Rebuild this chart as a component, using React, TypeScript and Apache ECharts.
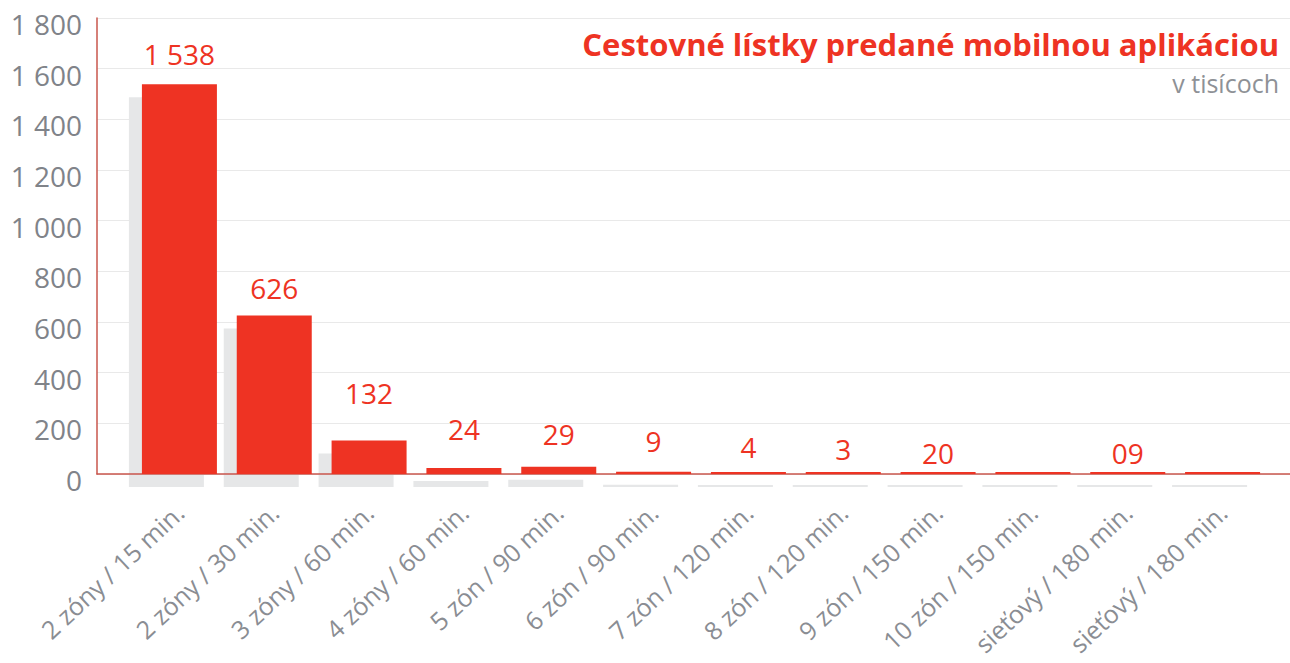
import React, { useEffect, useRef } from "react";
import * as echarts from "echarts";

const categories = [
  "2 zóny / 15 min.",
  "2 zóny / 30 min.",
  "3 zóny / 60 min.",
  "4 zóny / 60 min.",
  "5 zón / 90 min.",
  "6 zón / 90 min.",
  "7 zón / 120 min.",
  "8 zón / 120 min.",
  "9 zón / 150 min.",
  "10 zón / 150 min.",
  "sieťový / 180 min.",
  "sieťový / 180 min.",
];
const ticketValues = [1538, 626, 132, 24, 29, 9, 4, 3, 2, 1, 0.9, 1];
const valueLabels = ["1 538", "626", "132", "24", "29", "9", "4", "3", "20", "", "09", ""];
const yMin = 0;
const yMax = 1800;
const yStep = 200;

const titleText = "Cestovné lístky predané mobilnou aplikáciou";
const subtitleText = "v tisícoch";

// label lift above each bar (style only)
const labelLift = [16, 13, 34, 25, 19, 17, 11, 9, 5, 5, 5, 5];

const RED = "#ee3323";
const GREY_TXT = "#808389";
const FONT = "'Open Sans', 'Noto Sans', sans-serif";

function fmt(v: number) {
  return String(v).replace(/\B(?=(\d{3})+(?!\d))/g, " ");
}

export default function App() {
  const ref = useRef<HTMLDivElement>(null);
  useEffect(() => {
    document.body.style.margin = "0";
    const chart = echarts.init(ref.current!, undefined, { renderer: "svg" });
    const gridTop = 18;
    const gridBottom = 189;
    const shift = 13;
    chart.setOption({
      animation: false,
      textStyle: { fontFamily: FONT },
      grid: [
        { left: 97, right: 0, top: gridTop, bottom: gridBottom },
        { left: 132, width: 1138, top: gridTop, bottom: gridBottom },
        { left: 132 - shift, width: 1138, top: gridTop + shift, bottom: gridBottom - shift },
      ],
      xAxis: [
        {
          gridIndex: 0,
          type: "value",
          min: 0,
          max: 1,
          z: 5,
          axisLine: { show: true, lineStyle: { color: "#c9564c", width: 1.5 } },
          axisTick: { show: false },
          axisLabel: { show: false },
          splitLine: { show: false },
        },
        {
          gridIndex: 1,
          type: "category",
          data: categories,
          axisLine: { show: false },
          axisTick: { show: false },
          axisLabel: {
            rotate: 43,
            interval: 0,
            margin: 34,
            fontSize: 25,
            color: "#8a8d93",
            fontFamily: FONT,
          },
        },
        { gridIndex: 2, type: "category", data: categories, show: false },
      ],
      yAxis: [
        {
          gridIndex: 0,
          type: "value",
          min: yMin,
          max: yMax,
          interval: yStep,
          axisLine: { show: true, lineStyle: { color: "#c9564c", width: 1.5 } },
          axisTick: { show: false },
          axisLabel: {
            formatter: (v: number) => fmt(v),
            fontSize: 28,
            color: GREY_TXT,
            margin: 15,
            verticalAlign: "top",
            lineHeight: 12,
            fontFamily: FONT,
          },
          splitLine: { show: true, lineStyle: { color: "#e9e9e9", width: 1 } },
        },
        { gridIndex: 1, type: "value", min: yMin, max: yMax, interval: yStep, show: false, splitLine: { show: false } },
        { gridIndex: 2, type: "value", min: yMin, max: yMax, interval: yStep, show: false, splitLine: { show: false } },
      ],
      series: [
        {
          type: "bar",
          xAxisIndex: 2,
          yAxisIndex: 2,
          data: ticketValues,
          barWidth: 75,
          barMinHeight: 2,
          itemStyle: { color: "#e6e7e8" },
          z: 1,
          silent: true,
        },
        {
          type: "bar",
          xAxisIndex: 1,
          yAxisIndex: 1,
          data: ticketValues.map((v, i) => ({
            value: v,
            label: { distance: labelLift[i] },
          })),
          barWidth: 75,
          barMinHeight: 2,
          itemStyle: { color: RED },
          z: 6,
          label: {
            show: true,
            position: "top",
            fontSize: 28,
            color: RED,
            fontFamily: FONT,
            formatter: (p: any) => valueLabels[p.dataIndex],
          },
        },
      ],
      graphic: [
        {
          type: "text",
          right: 11,
          top: 28,
          z: 10,
          style: {
            text: titleText,
            fill: RED,
            font: `bold 31px ${FONT}`,
          },
        },
        {
          type: "text",
          right: 11,
          top: 70,
          z: 10,
          style: {
            text: subtitleText,
            fill: "#8e9196",
            font: `25px ${FONT}`,
          },
        },
      ],
    });
    return () => chart.dispose();
  }, []);
  return (
    <div
      ref={ref}
      style={{ position: "absolute", left: 0, top: 0, width: 1290, height: 663 }}
    />
  );
}
